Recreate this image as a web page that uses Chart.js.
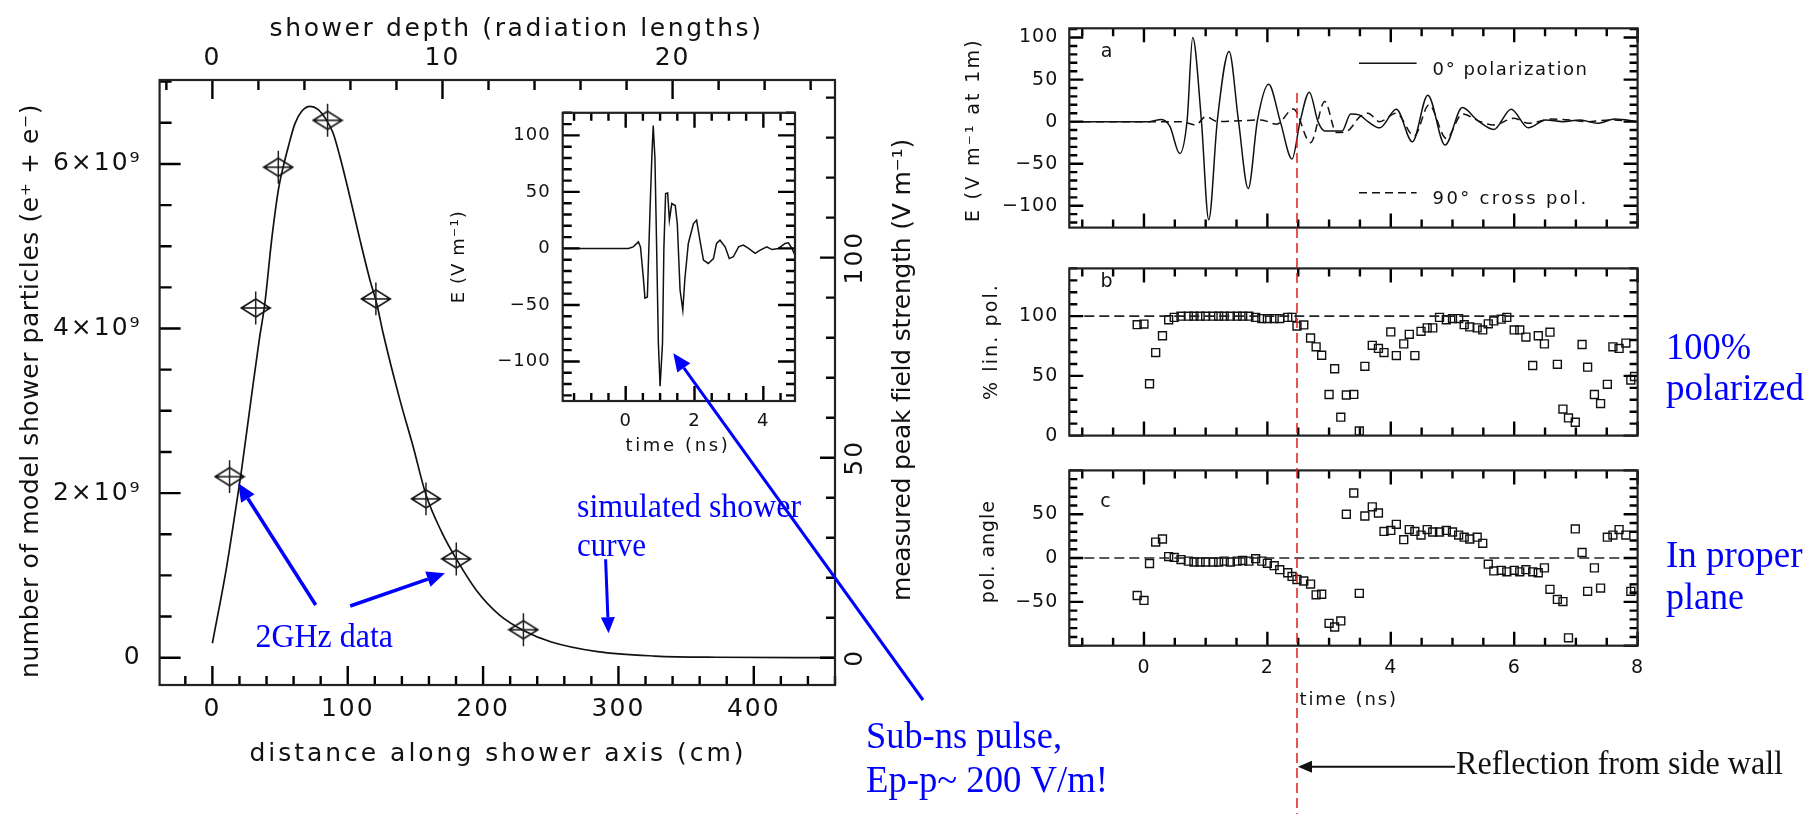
<!DOCTYPE html>
<html>
<head>
<meta charset="utf-8">
<title>shower profile and pulse polarization</title>
<script src="https://cdn.jsdelivr.net/npm/chart.js@4.4.1/dist/chart.umd.min.js"></script>
<style>
  html, body { margin: 0; padding: 0; background: #fff; }
  #wrap { position: relative; width: 1808px; height: 814px; overflow: hidden; }
  canvas { position: absolute; }
</style>
</head>
<body>
<div id="wrap">
  <canvas id="cMain" width="945" height="814" style="left:0;top:0"></canvas>
  <canvas id="cInset" width="380" height="380" style="left:440px;top:90px"></canvas>
  <canvas id="cA" width="760" height="250" style="left:940px;top:0"></canvas>
  <canvas id="cB" width="760" height="212" style="left:940px;top:246px"></canvas>
  <canvas id="cC" width="760" height="292" style="left:940px;top:448px"></canvas>
  <canvas id="cTop" width="1808" height="814" style="left:0;top:0"></canvas>
</div>
<script>
var PG = '"DejaVu Sans", sans-serif';
var SERIF = '"Liberation Serif", "Times New Roman", serif';
var BLUE = 'rgb(0,0,255)';

// ---- left: simulated shower curve (cm, units of 1e9 particles)
var showerCm = [0, 10.6, 19, 21.2, 28.5, 34.6, 38.8, 43.8, 48.7, 52.4, 56.1, 61, 66, 72.1, 78.2, 84.4, 89.3, 94.2, 101.6, 109, 116.4, 121.3, 126.2, 138.6, 148.4, 157.8, 169.6, 180.2, 195, 212, 229.8, 250.5, 284.5, 327, 372, 460];
var showerN = [0.175, 1.11, 2.0, 2.24, 3.13, 3.86, 4.31, 5.08, 5.68, 5.97, 6.21, 6.49, 6.64, 6.70, 6.66, 6.53, 6.37, 6.09, 5.60, 5.08, 4.59, 4.31, 3.94, 3.13, 2.56, 1.98, 1.52, 1.20, 0.82, 0.52, 0.33, 0.19, 0.073, 0.02, 0.005, 0];
// 2GHz data points
var dataCm = [12.7, 32.0, 48.7, 85.1, 120.8, 157.8, 180.2, 229.8];
var dataN = [2.2, 4.25, 5.96, 6.53, 4.36, 1.93, 1.2, 0.34];
var dataErr = [0.2, 0.2, 0.2, 0.2, 0.2, 0.2, 0.2, 0.2];
var distTicks = [0, 100, 200, 300, 400];
var depthTicks = [0, 10, 20];
var countTicks = [0, 2e9, 4e9, 6e9];
var fieldTicks = [0, 50, 100];
var radLength = 17; // cm per radiation length

// ---- inset pulse
var pulseT = [-1.83, 0.08, 0.22, 0.37, 0.43, 0.51, 0.56, 0.63, 0.71, 0.76, 0.80, 0.85, 0.90, 0.95, 1.00, 1.07, 1.11, 1.16, 1.22, 1.27, 1.34, 1.44, 1.50, 1.58, 1.66, 1.72, 1.82, 1.97, 2.06, 2.16, 2.26, 2.40, 2.55, 2.64, 2.74, 2.89, 3.01, 3.13, 3.28, 3.42, 3.57, 3.76, 3.91, 4.10, 4.25, 4.44, 4.63, 4.73, 4.83, 4.92];
var pulseE = [0, 0, 1.4, 5.8, 1.4, -25, -44, -43, 36.7, 80.8, 108.8, 80, 0, -83.8, -122, -84, 0, 48.5, 49, 25, 39.7, 38, 22, -36.8, -54.5, -27, 4.4, 22, 25, 7, -10.3, -13.3, -9, 4.4, 7.3, 1.4, -9, -7.4, 1.4, 3, 0, -4.4, -1.5, 1.4, -1, 0, 4.4, 5, 0, -6];
var pulseTicks = [-100, -50, 0, 50, 100];
var pulseTimeTicks = [0, 2, 4];

// ---- right panel a
var coT = [-1.2, 0.09, 0.28, 0.42, 0.58, 0.70, 0.79, 0.93, 1.05, 1.19, 1.38, 1.53, 1.69, 1.84, 2.02, 2.21, 2.40, 2.53, 2.68, 2.82, 2.93, 3.21, 3.35, 3.49, 3.63, 3.82, 4.09, 4.35, 4.60, 4.88, 5.16, 5.40, 5.67, 5.95, 6.23, 6.51, 6.79, 7.07, 7.35, 7.63, 8.0];
var coE = [0, 0, 2.6, -5.6, -38, 2, 100, 2, -116.7, 2, 83.3, 2, -79.6, 2, 44.4, 0, -44.4, 0, 35, 0, -11, -11, 9.2, 8, 0, -7.4, 14.8, -24, 31.5, -27.8, 16.7, 1.9, -9.3, 14.8, -7.4, 2, 0, 2, -2, 3, 0];
var crossT = [-1.2, 0.6, 0.84, 1.0, 1.2, 1.9, 2.15, 2.42, 2.7, 2.93, 3.12, 3.3, 3.5, 3.63, 3.82, 4.09, 4.38, 4.62, 4.9, 5.16, 5.45, 5.67, 6.0, 6.23, 6.6, 6.9, 7.2, 7.55, 8.0];
var crossE = [0, 0, -4, 6, 0, 2, -3, 15, -25, 24, -13, -11, 6, 10, 0, 10, -17, 20, -20, 9, 0, -4, 4, -2, 3, 2, 0, 2, 0];
var fieldTicksA = [-100, -50, 0, 50, 100];

// ---- right panels b, c
var polT = [-0.11, 0, 0.09, 0.19, 0.30, 0.40, 0.49, 0.60, 0.72, 0.81, 0.91, 1.00, 1.12, 1.21, 1.30, 1.40, 1.51, 1.60, 1.70, 1.81, 1.91, 2.00, 2.11, 2.20, 2.33, 2.40, 2.48, 2.59, 2.70, 2.79, 2.88, 3.00, 3.09, 3.19, 3.28, 3.40, 3.49, 3.58, 3.70, 3.80, 3.89, 4.00, 4.09, 4.21, 4.30, 4.39, 4.49, 4.59, 4.68, 4.79, 4.90, 5.00, 5.10, 5.19, 5.28, 5.40, 5.49, 5.58, 5.67, 5.79, 5.88, 6.00, 6.09, 6.19, 6.30, 6.39, 6.49, 6.58, 6.70, 6.79, 6.88, 6.99, 7.10, 7.19, 7.30, 7.40, 7.51, 7.60, 7.70, 7.81, 7.89, 7.95];
var linPol = [92.9, 93.4, 43.4, 69.5, 83.6, 97, 99, 100, 100, 100, 100, 100, 100, 100, 100, 100, 100, 100, 100, 99, 98, 98, 98, 98, 99, 99, 91.7, 92.7, 81.7, 74.3, 67.3, 34.4, 56, 15.4, 34, 34.5, 3.9, 58, 75.6, 73, 69.5, 86.8, 67, 76.8, 84.8, 67, 87.3, 90.2, 90.2, 99, 97, 98, 98, 92.9, 91, 90.2, 88.5, 93.6, 96, 97.5, 99, 88.5, 88.5, 82.5, 58.7, 83.6, 76.8, 86.6, 59.7, 22.2, 14.8, 11.2, 76.3, 57.3, 34.4, 26.8, 42.9, 74.3, 73, 77.5, 46.5, 49.5];
var polAngle = [-42.7, -48.3, -6.3, 18.2, 21.7, 1.7, 0.7, -1.7, -3.5, -4.5, -4.5, -4.5, -4.5, -4.5, -3.5, -4.5, -3.5, -2.8, -3.5, -0.7, -3.5, -6, -8.7, -13.3, -16.8, -21, -24.5, -26.2, -29.7, -42, -41.3, -74.5, -78.7, -71.7, 50, 74.2, -40.2, 48, 58.4, 51.4, 30.4, 31.5, 38.5, 21, 32.5, 30.4, 26.2, 32.5, 29.7, 29.7, 31.5, 29.7, 26.2, 23.8, 21.7, 23.8, 16.8, -7, -14.7, -14, -15.7, -14, -15.7, -13.3, -15.7, -16.8, -11.2, -35.7, -47.2, -49.7, -91, 33.2, 6.3, -38, -11.2, -34.3, 23.8, 26.2, 32.5, 26.2, -38, -34.3];
var linPolTicks = [0, 50, 100];
var angleTicks = [-50, 0, 50];
var timeTicks = [0, 2, 4, 6, 8];
var tMin = -1.21, tMax = 8.0;
var linPolRef = 100, angleRef = 0;
var reflT = 2.48;

function pts(xs, ys, k) {
  return xs.map(function (x, i) { return { x: x, y: ys[i] * (k || 1) }; });
}
function fixTicks(vals) {
  return function (s) { s.ticks = vals.map(function (v) { return { value: v }; }); };
}
function minus(v) { return String(v).replace('-', '\u2212'); }

function txt(g, s, x, y, o) {
  g.save();
  g.translate(x, y);
  if (o.rot) g.rotate(o.rot);
  g.font = o.font;
  g.fillStyle = o.color || '#111';
  g.textAlign = o.align || 'center';
  g.textBaseline = o.base || 'middle';
  if ('letterSpacing' in g) g.letterSpacing = o.ls || '0px';
  if (o.w) {
    var w = g.measureText(s).width;
    if ('letterSpacing' in g) g.letterSpacing = ((o.w - w) / s.length) + 'px';
  }
  if (o.sw) {
    var w2 = g.measureText(s).width;
    g.scale(o.sw / w2, o.sy || 1);
  }
  g.fillText(s, 0, 0);
  g.restore();
}

// frame and inward tick marks of one chart, drawn on the overlay through the chart's scales
function drawFrame(g, chart, ox, oy, tickList, extra) {
  var ca = chart.chartArea;
  g.save();
  g.translate(ox, oy);
  if ('letterSpacing' in g) g.letterSpacing = '0px';
  g.setLineDash([]);
  g.strokeStyle = '#000';
  g.lineWidth = 2.4;
  for (var i = 0; i < tickList.length; i++) {
    var t = tickList[i];
    var sc = chart.scales[t[0]];
    var side = t[1], step = t[2], major = t[3], l1 = t[4], l2 = t[5];
    g.beginPath();
    for (var k = Math.ceil(sc.min / step - 1e-9); k <= Math.floor(sc.max / step + 1e-9); k++) {
      var v = k * step, r = v / major;
      var L = Math.abs(r - Math.round(r)) < 1e-6 ? l2 : l1;
      var p = sc.getPixelForValue(v);
      if (side === 'bottom') { g.moveTo(p, ca.bottom); g.lineTo(p, ca.bottom - L); }
      else if (side === 'top') { g.moveTo(p, ca.top); g.lineTo(p, ca.top + L); }
      else if (side === 'left') { g.moveTo(ca.left, p); g.lineTo(ca.left + L, p); }
      else { g.moveTo(ca.right, p); g.lineTo(ca.right - L, p); }
    }
    g.stroke();
  }
  g.strokeStyle = '#222';
  g.lineWidth = 2.2;
  g.strokeRect(ca.left, ca.top, ca.right - ca.left, ca.bottom - ca.top);
  if (extra) extra(chart, g);
  g.restore();
}

function spacing(ls) {
  return { id: 'spacing', beforeDraw: function (chart) { if ('letterSpacing' in chart.ctx) chart.ctx.letterSpacing = ls; } };
}

function diamondImage() {
  var c = document.createElement('canvas');
  c.width = 32; c.height = 22;
  var g = c.getContext('2d');
  g.strokeStyle = '#111';
  g.lineWidth = 1.5;
  g.beginPath();
  g.moveTo(1.5, 11); g.lineTo(16, 2); g.lineTo(30.5, 11); g.lineTo(16, 20); g.closePath();
  g.moveTo(1.5, 11); g.lineTo(30.5, 11);
  g.stroke();
  return c;
}

var noGrid = { display: false, drawTicks: false };
var noBorder = { display: false };
var base = {
  responsive: false, animation: false, devicePixelRatio: 1, events: [],
  plugins: { legend: { display: false }, tooltip: { enabled: false } }
};
function opts(extra) { return Object.assign({}, base, extra); }

// ---------------- main shower chart
var chMain = new Chart(document.getElementById('cMain'), {
  type: 'line',
  data: {
    datasets: [
      { data: pts(dataCm, dataN, 1e9), showLine: false, pointStyle: diamondImage(), pointRadius: 15, xAxisID: 'x', yAxisID: 'y' },
      { data: pts(showerCm, showerN, 1e9), borderColor: '#111', borderWidth: 1.7, pointRadius: 0,
        cubicInterpolationMode: 'monotone', fill: false, xAxisID: 'x', yAxisID: 'y' }
    ]
  },
  options: opts({
    layout: { padding: { left: 0, top: 0, right: 110, bottom: 0 } },
    scales: {
      x: { type: 'linear', position: 'bottom', min: -39, max: 460,
        afterBuildTicks: fixTicks(distTicks), afterFit: function (s) { s.height = 129; },
        grid: noGrid, border: noBorder,
        ticks: { font: { family: PG, size: 25 }, color: '#111', padding: 9, maxRotation: 0, autoSkip: false } },
      xTop: { type: 'linear', position: 'top', min: -39 / radLength, max: 460 / radLength,
        afterBuildTicks: fixTicks(depthTicks), afterFit: function (s) { s.height = 80; },
        grid: noGrid, border: noBorder,
        ticks: { font: { family: PG, size: 25 }, color: '#111', padding: 7, maxRotation: 0, autoSkip: false } },
      y: { type: 'linear', position: 'left', min: -0.332e9, max: 7.02e9,
        afterBuildTicks: fixTicks(countTicks), afterFit: function (s) { s.width = 159.6; },
        grid: noGrid, border: noBorder,
        ticks: { font: { family: PG, size: 25 }, color: '#111', padding: 18, autoSkip: false,
          callback: function (v) { return v === 0 ? '0' : (v / 1e9) + '\u00d710\u2079'; } } },
      yR: { type: 'linear', position: 'right', display: false, min: -6.8, max: 144.4 }
    }
  }),
  plugins: [spacing('2px')]
});

// ---------------- inset pulse chart
var chInset = new Chart(document.getElementById('cInset'), {
  type: 'line',
  data: { datasets: [
    { data: pts(pulseT, pulseE), borderColor: '#111', borderWidth: 1.5, pointRadius: 0, tension: 0 }
  ] },
  options: opts({
    layout: { padding: { left: 0, top: 22.7, right: 25, bottom: 0 } },
    scales: {
      x: { type: 'linear', min: -1.83, max: 4.92, afterBuildTicks: fixTicks(pulseTimeTicks),
        afterFit: function (s) { s.height = 69; }, grid: noGrid, border: noBorder,
        ticks: { font: { family: PG, size: 18 }, color: '#111', padding: 10, maxRotation: 0, autoSkip: false } },
      y: { type: 'linear', min: -135, max: 120, afterBuildTicks: fixTicks(pulseTicks),
        afterFit: function (s) { s.width = 122.7; }, grid: noGrid, border: noBorder,
        ticks: { font: { family: PG, size: 18 }, color: '#111', padding: 12, autoSkip: false, callback: minus } }
    }
  }),
  plugins: [spacing('1px')]
});

// ---------------- right panels
function panel(id, o) {
  return new Chart(document.getElementById(id), {
    type: 'line',
    data: { datasets: o.datasets },
    options: opts({
      layout: { padding: { left: 0, top: o.top, right: 62.4, bottom: o.bottom } },
      scales: {
        x: { type: 'linear', min: tMin, max: tMax, display: !!o.xHeight,
          afterBuildTicks: fixTicks(timeTicks), afterFit: function (s) { s.height = o.xHeight || 0; },
          grid: noGrid, border: noBorder,
          ticks: { font: { family: PG, size: 19 }, color: '#111', padding: 11, maxRotation: 0, autoSkip: false } },
        y: { type: 'linear', min: o.yMin, max: o.yMax, afterBuildTicks: fixTicks(o.yTicks),
          afterFit: function (s) { s.width = 129.3; }, grid: noGrid, border: noBorder,
          ticks: { font: { family: PG, size: 19 }, color: '#111', padding: 11, autoSkip: false, callback: minus } }
      }
    }),
    plugins: [spacing('1px')]
  });
}
function squares(ys) {
  return { data: pts(polT, ys), showLine: false, pointStyle: 'rect', pointRadius: 5.6,
    borderColor: '#111', backgroundColor: 'rgba(0,0,0,0)', borderWidth: 1.4, pointBorderWidth: 1.4 };
}
function refLine(v) {
  return { data: [{ x: tMin, y: v }, { x: tMax, y: v }], borderColor: '#222', borderWidth: 1.6,
    borderDash: [10, 5], pointRadius: 0 };
}

var chA = panel('cA', {
  top: 28.3, bottom: 8.3, yMin: -126, yMax: 111, yTicks: fieldTicksA,
  datasets: [
    { data: pts(coT, coE), borderColor: '#111', borderWidth: 1.5, pointRadius: 0, cubicInterpolationMode: 'monotone' },
    { data: pts(crossT, crossE), borderColor: '#111', borderWidth: 1.5, pointRadius: 0, borderDash: [8, 5], cubicInterpolationMode: 'monotone' }
  ]
});
var chB = panel('cB', {
  top: 7.3, bottom: 13.7, yMin: 0, yMax: 140, yTicks: linPolTicks,
  datasets: [refLine(linPolRef), squares(linPol)]
});
var chC = panel('cC', {
  top: 7, bottom: 0, xHeight: 94.3, yMin: -100, yMax: 100, yTicks: angleTicks,
  datasets: [refLine(angleRef), squares(polAngle)]
});

// ---------------- overlay: frames, ticks, titles, legend, annotations
var g = document.getElementById('cTop').getContext('2d');
var rightTicks = [['x', 'bottom', 0.5, 2, 8, 14], ['x', 'top', 0.5, 2, 8, 14],
                  ['y', 'left', 10, 50, 8, 14], ['y', 'right', 10, 50, 8, 14]];
drawFrame(g, chMain, 0, 0,
  [['x', 'bottom', 20, 100, 9, 19], ['xTop', 'top', 2, 10, 10, 19],
   ['y', 'left', 0.5e9, 2e9, 12, 21], ['yR', 'right', 10, 50, 9, 15]],
  function (chart, c) {
    var xs = chart.scales.x, ys = chart.scales.y, yr = chart.scales.yR;
    c.lineWidth = 1.5;
    c.beginPath();
    dataCm.forEach(function (cm, i) {
      var px = xs.getPixelForValue(cm);
      c.moveTo(px, ys.getPixelForValue((dataN[i] + dataErr[i]) * 1e9));
      c.lineTo(px, ys.getPixelForValue((dataN[i] - dataErr[i]) * 1e9));
    });
    c.stroke();
    fieldTicks.forEach(function (v) {
      txt(c, String(v), 855, yr.getPixelForValue(v), { font: '25px ' + PG, rot: -Math.PI / 2, ls: '2px' });
    });
  });
drawFrame(g, chInset, 440, 90,
  [['x', 'bottom', 0.5, 2, 8, 15], ['x', 'top', 0.5, 2, 8, 15],
   ['y', 'left', 10, 50, 9, 17], ['y', 'right', 10, 50, 9, 17]]);
drawFrame(g, chA, 940, 0, rightTicks);
drawFrame(g, chB, 940, 246, rightTicks);
drawFrame(g, chC, 940, 448, rightTicks);

var R = -Math.PI / 2;
txt(g, 'shower depth (radiation lengths)', 516.6, 29, { font: '25px ' + PG, w: 494 });
txt(g, 'distance along shower axis (cm)', 498, 754, { font: '25px ' + PG, w: 497 });
txt(g, 'number of model shower particles (e\u207a + e\u207b)', 31, 391, { font: '25px ' + PG, rot: R, w: 574 });
txt(g, 'measured peak field strength (V m\u207b\u00b9)', 903, 370, { font: '25px ' + PG, rot: R, w: 462 });
txt(g, 'E (V m\u207b\u00b9)', 459.2, 256.7, { font: '18px ' + PG, rot: R, w: 93 });
txt(g, 'time (ns)', 678, 446.7, { font: '18px ' + PG, w: 105 });
txt(g, 'E (V m\u207b\u00b9 at 1m)', 974.5, 130, { font: '19px ' + PG, rot: R, w: 184 });
txt(g, '% lin. pol.', 991.8, 341.5, { font: '19px ' + PG, rot: R, w: 117 });
txt(g, 'pol. angle', 988.9, 551.7, { font: '19px ' + PG, rot: R, w: 103 });
txt(g, 'time (ns)', 1348.7, 700, { font: '18px ' + PG, w: 98.5 });
txt(g, 'a', 1106.6, 51.7, { font: '19px ' + PG });
txt(g, 'b', 1106.6, 281.7, { font: '19px ' + PG });
txt(g, 'c', 1105.4, 501.7, { font: '19px ' + PG });

// legend of panel a
g.strokeStyle = '#111';
g.lineWidth = 1.6;
g.beginPath(); g.moveTo(1359, 63.3); g.lineTo(1416.6, 63.3); g.stroke();
g.setLineDash([8, 5]);
g.beginPath(); g.moveTo(1359, 192.7); g.lineTo(1416.6, 192.7); g.stroke();
g.setLineDash([]);
txt(g, '0\u00b0 polarization', 1432.6, 75, { font: '18px ' + PG, align: 'left', base: 'alphabetic', w: 156 });
txt(g, '90\u00b0 cross pol.', 1432.6, 204, { font: '18px ' + PG, align: 'left', base: 'alphabetic', w: 156 });

// red reflection line
var xRefl = 940 + chA.scales.x.getPixelForValue(reflT);
g.strokeStyle = 'rgb(220,30,30)';
g.lineWidth = 1.5;
g.setLineDash([10, 5]);
g.beginPath(); g.moveTo(xRefl, 93); g.lineTo(xRefl, 814); g.stroke();
g.setLineDash([]);

function arrow(x1, y1, x2, y2, color, lw, hl, hw) {
  var a = Math.atan2(y2 - y1, x2 - x1);
  var bx = x2 - hl * Math.cos(a), by = y2 - hl * Math.sin(a);
  g.strokeStyle = color; g.fillStyle = color; g.lineWidth = lw;
  g.beginPath(); g.moveTo(x1, y1); g.lineTo(bx, by); g.stroke();
  g.beginPath();
  g.moveTo(x2, y2);
  g.lineTo(bx + hw * Math.sin(a), by - hw * Math.cos(a));
  g.lineTo(bx - hw * Math.sin(a), by + hw * Math.cos(a));
  g.closePath(); g.fill();
}

// reflection arrow + label
arrow(1455, 766.7, xRefl + 1, 766.7, '#111', 2, 14, 6);
txt(g, 'Reflection from side wall', 1456, 774, { font: '32px ' + SERIF, align: 'left', base: 'alphabetic', sw: 327, sy: 1.05 });

// blue annotations on the left
arrow(315.7, 605, 238.2, 483.3, BLUE, 3.5, 18, 8);
arrow(350.2, 606, 444.9, 573.3, BLUE, 3.5, 18, 8);
arrow(605.6, 559.3, 608.5, 633.3, BLUE, 3, 16, 7);
arrow(923, 700, 673.3, 353.3, BLUE, 3, 18, 8);
txt(g, '2GHz data', 255.5, 646.7, { font: '33px ' + SERIF, color: BLUE, align: 'left', base: 'alphabetic', sw: 137.5, sy: 1.05 });
txt(g, 'simulated shower', 577, 517, { font: '32px ' + SERIF, color: BLUE, align: 'left', base: 'alphabetic', sw: 224, sy: 1.05 });
txt(g, 'curve', 577, 556, { font: '32px ' + SERIF, color: BLUE, align: 'left', base: 'alphabetic', sw: 69, sy: 1.05 });
txt(g, 'Sub-ns pulse,', 866, 748.3, { font: '36px ' + SERIF, color: BLUE, align: 'left', base: 'alphabetic', sw: 196, sy: 1.05 });
txt(g, 'Ep-p~ 200 V/m!', 866, 791.7, { font: '36px ' + SERIF, color: BLUE, align: 'left', base: 'alphabetic', sw: 242, sy: 1.05 });
txt(g, '100%', 1666, 358.5, { font: '37px ' + SERIF, color: BLUE, align: 'left', base: 'alphabetic', sw: 85, sy: 1.05 });
txt(g, 'polarized', 1666, 400, { font: '37px ' + SERIF, color: BLUE, align: 'left', base: 'alphabetic', sw: 138, sy: 1.05 });
txt(g, 'In proper', 1666, 567, { font: '37px ' + SERIF, color: BLUE, align: 'left', base: 'alphabetic', sw: 136.6, sy: 1.05 });
txt(g, 'plane', 1666, 608.5, { font: '37px ' + SERIF, color: BLUE, align: 'left', base: 'alphabetic', sw: 78, sy: 1.05 });
</script>
</body>
</html>
